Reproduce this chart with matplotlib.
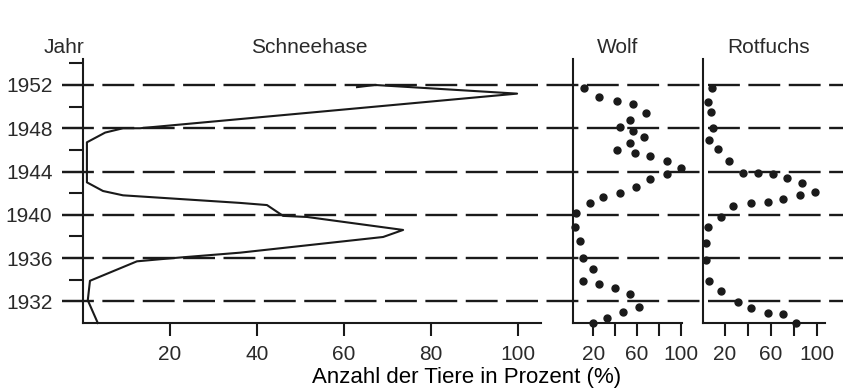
import matplotlib.pyplot as plt
from matplotlib import transforms

# Schneehase: Kurve als (Jahr, Prozent), von unten nach oben
hase_jahr = [1930.0, 1932.1, 1933.9, 1935.7, 1936.0, 1936.5, 1937.95, 1938.6,
             1939.8, 1939.9, 1940.9, 1941.1, 1941.8, 1942.2, 1943.0, 1946.7,
             1947.6, 1948.0, 1948.0, 1951.2, 1952.0, 1951.8]
hase_proz = [3.4, 1.1, 1.6, 12.4, 20.7, 36.1, 69.0, 73.6,
             51.5, 46.0, 42.3, 36.1, 9.2, 4.6, 0.9, 0.9,
             5.1, 9.2, 13.1, 99.8, 67.1, 63.0]

# Wolf: Einzelwerte
wolf_jahr = [1951.7, 1950.9, 1950.5, 1950.2, 1949.4, 1948.8, 1948.1, 1947.7,
             1947.2, 1946.6, 1946.0, 1945.7, 1945.4, 1945.0, 1944.3, 1943.8,
             1943.3, 1942.6, 1942.0, 1941.6, 1941.1, 1940.2, 1938.9, 1937.6,
             1936.0, 1935.0, 1933.9, 1933.6, 1933.2, 1932.7, 1931.5, 1931.0,
             1930.5, 1930.0]
wolf_proz = [12, 25, 42, 56, 68, 54, 44, 56,
             66, 54, 42, 58, 72, 87, 100, 87,
             72, 59, 44, 29, 17, 4, 3, 8,
             11, 20, 11, 25, 40, 54, 62, 47,
             33, 20]

# Rotfuchs: Einzelwerte
fuchs_jahr = [1951.7, 1950.4, 1949.5, 1948.0, 1946.9, 1946.1, 1945.0, 1943.9,
              1943.9, 1943.8, 1943.4, 1942.9, 1942.1, 1941.8, 1941.5, 1941.2,
              1941.1, 1940.8, 1939.8, 1938.9, 1937.4, 1935.8, 1933.9, 1933.0,
              1931.9, 1931.4, 1930.9, 1930.8, 1930.0]
fuchs_proz = [9, 5, 8, 10, 6, 14, 24, 36,
              49, 62, 74, 87, 98, 85, 70, 57,
              43, 27, 17, 5, 4, 4, 6, 17,
              31, 43, 57, 70, 82]

jahr_major = [1932, 1936, 1940, 1944, 1948, 1952]
jahr_minor = [1934, 1938, 1942, 1946, 1950, 1954]
hase_ticks = [20, 40, 60, 80, 100]
klein_ticks = [20, 40, 60, 80, 100]
klein_labels = ['20', '', '60', '', '100']

schrift, groesse = 'Liberation Sans', 15
ink = '#1a1a1a'
textfarbe = '#2a2a2a'

W, H = 843, 388
fig = plt.figure(figsize=(W / 100, H / 100), dpi=100)

unten, hoehe = (H - 323) / H, 264 / H
ylim = (1930.0, 1954.4)

ax = fig.add_axes([83 / W, unten, 458 / W, hoehe])
ax_w = fig.add_axes([573 / W, unten, 109 / W, hoehe])
ax_f = fig.add_axes([703 / W, unten, 122 / W, hoehe])

for a in (ax, ax_w, ax_f):
    a.set_ylim(*ylim)
    a.patch.set_alpha(0)
    for s in ('top', 'right'):
        a.spines[s].set_visible(False)
    for s in ('left', 'bottom'):
        a.spines[s].set_linewidth(1.5)
        a.spines[s].set_color(ink)
    a.tick_params(axis='x', direction='out', length=9, width=1.5, pad=7,
                  colors=ink, labelcolor=textfarbe, labelsize=groesse)

ax.set_xlim(0, 105.3)
ax_w.set_xlim(1.5, 101.1)
ax_f.set_xlim(1.1, 106.8)

# Jahresachse nur links
ax.set_yticks(jahr_major)
ax.set_yticks(jahr_minor, minor=True)
ax.tick_params(axis='y', which='major', length=15, width=1.5, pad=7,
               colors=ink, labelcolor=textfarbe, labelsize=groesse)
ax.tick_params(axis='y', which='minor', length=10, width=1.5, colors=ink)
for a in (ax_w, ax_f):
    a.set_yticks([])

ax.set_xticks(hase_ticks)
for a in (ax_w, ax_f):
    a.set_xticks(klein_ticks)
    a.set_xticklabels(klein_labels)
for a in (ax, ax_w, ax_f):
    for lab in a.get_xticklabels() + a.get_yticklabels():
        lab.set_family(schrift)
        lab.set_fontsize(groesse)

# gestrichelte Jahreslinien über alle drei Felder
trans = transforms.blended_transform_factory(fig.transFigure, ax.transData)
for j in jahr_major:
    ax.plot([62 / W, 1.0], [j, j], transform=trans, color=ink, lw=1.7,
            dashes=(13.5, 3.6), clip_on=False, zorder=1)

ax.plot(hase_proz, hase_jahr, color=ink, lw=1.5, clip_on=False, zorder=3)
ax_w.plot(wolf_proz, wolf_jahr, 'o', color=ink, ms=5, clip_on=False, zorder=3)
ax_f.plot(fuchs_proz, fuchs_jahr, 'o', color=ink, ms=5, clip_on=False, zorder=3)

titel = dict(family=schrift, fontsize=groesse, color=textfarbe,
             ha='center', va='baseline')
fig.text(64 / W, 1 - 53 / H, 'Jahr', **titel)
fig.text(309 / W, 1 - 53 / H, 'Schneehase', **titel)
fig.text(618 / W, 1 - 53 / H, 'Wolf', **titel)
fig.text(769 / W, 1 - 53 / H, 'Rotfuchs', **titel)

fig.text(467 / W, 1 - 383 / H, 'Anzahl der Tiere in Prozent (%)',
         family='Liberation Sans', fontsize=16, color='black',
         ha='center', va='baseline')

fig.savefig('out.png', dpi=100)
